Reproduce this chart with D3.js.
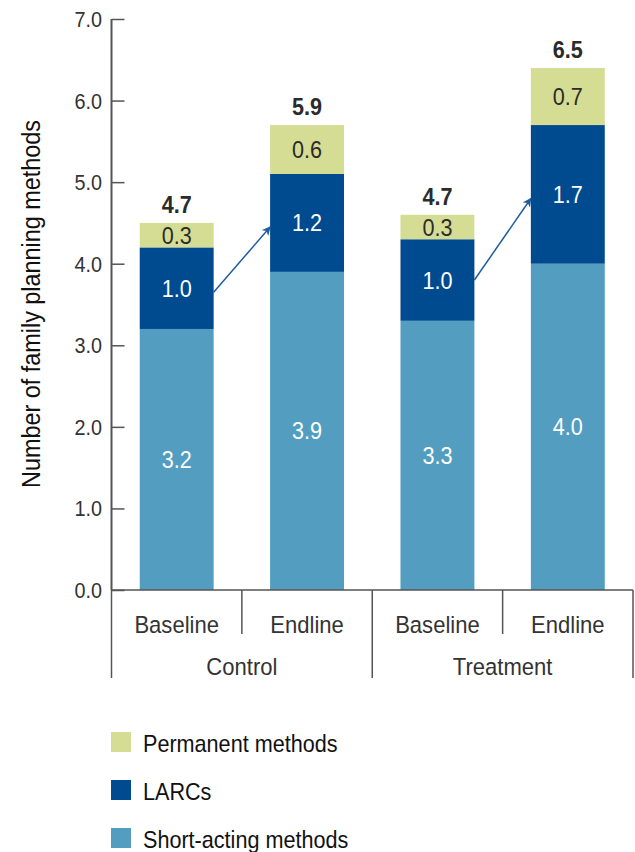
<!DOCTYPE html>
<html>
<head>
<meta charset="utf-8">
<script src="https://cdn.jsdelivr.net/npm/d3@7"></script>
<style>
  html, body { margin: 0; padding: 0; background: #fff; }
  svg { display: block; }
  text { font-family: "Liberation Sans", Arial, sans-serif; fill: #2b2b2b; }
</style>
</head>
<body>
<svg id="chart" width="635" height="852"></svg>
<script>
// ---- data ----
const groups = ["Control", "Treatment"];
const periods = ["Baseline", "Endline"];
const bars = ["Control-Baseline", "Control-Endline", "Treatment-Baseline", "Treatment-Endline"];
const shortActing = [3.2, 3.9, 3.3, 4.0];
const larcs = [1.0, 1.2, 1.0, 1.7];
const permanent = [0.3, 0.6, 0.3, 0.7];
const totals = [4.7, 5.9, 4.7, 6.5];
const yTicks = [0, 1, 2, 3, 4, 5, 6, 7];
const seriesNames = ["Short-acting methods", "LARCs", "Permanent methods"];
const seriesColors = ["#539ec0", "#004b8f", "#d5dc93"];
const arrowFrom = [0, 2];
const arrowTo = [1, 3];
const arrowStart = [3.65, 3.8];
const arrowEnd = [4.45, 4.8];

(function () {
const svg = d3.select("#chart");
const mLeft = 111.5, mRight = 633, mTop = 19, mBottom = 590;
const SX = 0.9; // condensed look
const tr = (px, py) => `translate(${px},${py}) scale(${SX},1)`;

const y = d3.scaleLinear().domain([0, 7]).range([mBottom, mTop]);
const x = d3.scaleBand().domain(bars).range([mLeft, mRight]).paddingInner(0.433).paddingOuter(0.2165);
const step = x.step();

const table = bars.map((b, i) => ({ key: b, short: shortActing[i], larc: larcs[i], perm: permanent[i] }));
const stack = d3.stack().keys(["short", "larc", "perm"]);
const layers = stack(table);

// bars
const g = svg.append("g");
layers.forEach((layer, li) => {
  g.selectAll(null).data(layer).enter().append("rect")
    .attr("x", d => x(d.data.key))
    .attr("width", x.bandwidth())
    .attr("y", d => y(d[1]))
    .attr("height", d => y(d[0]) - y(d[1]))
    .attr("fill", seriesColors[li]);
  g.selectAll(null).data(layer).enter().append("text")
    .attr("transform", d => tr(x(d.data.key) + x.bandwidth() / 2, (y(d[0]) + y(d[1])) / 2 + 8.5))
    .attr("text-anchor", "middle")
    .style("font-size", "24px")
    .style("fill", li === 2 ? "#2b2b2b" : "#ffffff")
    .text(d => d3.format(".1f")(d[1] - d[0]));
});

// totals
g.selectAll(null).data(table).enter().append("text")
  .attr("transform", d => tr(x(d.key) + x.bandwidth() / 2, y(d.short + d.larc + d.perm) - 10))
  .attr("text-anchor", "middle")
  .style("font-size", "24px")
  .style("font-weight", "bold")
  .text((d, i) => d3.format(".1f")(totals[i]));

// arrows
const defs = svg.append("defs");
defs.append("marker").attr("id", "ah").attr("viewBox", "0 0 10 10")
  .attr("refX", 9).attr("refY", 5).attr("markerWidth", 9).attr("markerHeight", 9)
  .attr("markerUnits", "userSpaceOnUse").attr("orient", "auto")
  .append("path").attr("d", "M0,0 L10,5 L0,10 L3,5 Z").attr("fill", "#1f5c9e");
arrowFrom.forEach((fi, i) => {
  svg.append("line")
    .attr("x1", x(bars[fi]) + x.bandwidth())
    .attr("y1", y(arrowStart[i]))
    .attr("x2", x(bars[arrowTo[i]]))
    .attr("y2", y(arrowEnd[i]))
    .attr("stroke", "#1f5c9e").attr("stroke-width", 1.5)
    .attr("marker-end", "url(#ah)");
});

// y axis
const axisColor = "#555";
const yAxis = d3.axisRight(y).tickValues(yTicks).tickSize(13).tickFormat("");
const ya = svg.append("g").attr("transform", `translate(${mLeft},0)`).call(yAxis);
ya.select(".domain").remove();
ya.selectAll(".tick line").attr("stroke", axisColor).attr("stroke-width", 1.5);
svg.append("line").attr("x1", mLeft).attr("x2", mLeft).attr("y1", mTop).attr("y2", mBottom)
  .attr("stroke", axisColor).attr("stroke-width", 2);
svg.selectAll(".ylab").data(yTicks).enter().append("text")
  .attr("transform", d => tr(102, y(d) + 8))
  .attr("text-anchor", "end")
  .style("font-size", "22px")
  .style("fill", "#333")
  .text(d => d3.format(".1f")(d));

// y title
svg.append("text")
  .attr("transform", `translate(39.5,304) rotate(-90) scale(${SX},1)`)
  .attr("text-anchor", "middle")
  .style("font-size", "26px")
  .style("fill", "#111")
  .text("Number of family planning methods");

// x axis
svg.append("line").attr("x1", mLeft).attr("x2", mRight).attr("y1", mBottom).attr("y2", mBottom)
  .attr("stroke", axisColor).attr("stroke-width", 1.5);
const boundaries = bars.map(b => x(b) + x.bandwidth() / 2 - step / 2).concat([mRight]);
boundaries.forEach((bx, i) => {
  const outer = (i % 2 === 0);
  svg.append("line").attr("x1", bx).attr("x2", bx).attr("y1", mBottom).attr("y2", outer ? 678 : 634)
    .attr("stroke", axisColor).attr("stroke-width", 1.5);
});
svg.selectAll(".plab").data(bars).enter().append("text")
  .attr("transform", d => tr(x(d) + x.bandwidth() / 2, 633))
  .attr("text-anchor", "middle")
  .style("font-size", "24.5px")
  .style("fill", "#333")
  .text((d, i) => periods[i % 2]);
groups.forEach((gname, gi) => {
  const x0 = boundaries[gi * 2], x1 = boundaries[gi * 2 + 2];
  svg.append("text").attr("transform", tr((x0 + x1) / 2, 675))
    .attr("text-anchor", "middle")
    .style("font-size", "24.5px")
    .style("fill", "#333")
    .text(gname);
});

// legend
const legendOrder = [2, 1, 0];
legendOrder.forEach((si, k) => {
  const ly = 732 + k * 48;
  svg.append("rect").attr("x", 111).attr("y", ly).attr("width", 20).attr("height", 20)
    .attr("fill", seriesColors[si]);
  svg.append("text").attr("transform", tr(143, ly + 19.5))
    .style("font-size", "24px")
    .style("fill", "#111")
    .text(seriesNames[si]);
});
})();
</script>
</body>
</html>
